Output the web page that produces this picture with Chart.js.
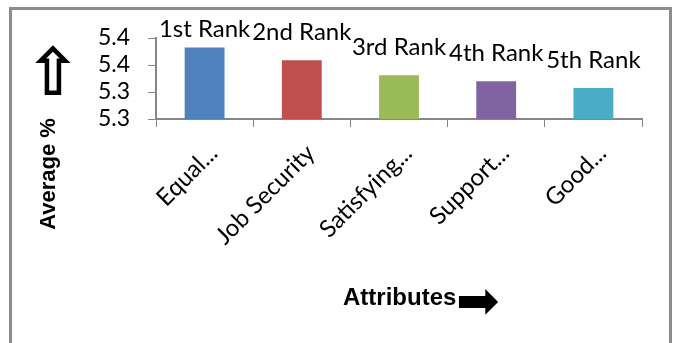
<!DOCTYPE html>
<html>
<head>
<meta charset="utf-8">
<script src="https://cdn.jsdelivr.net/npm/chart.js@4/dist/chart.umd.min.js"></script>
<style>
  html, body { margin: 0; padding: 0; background: #fff; }
  #wrap { width: 676px; height: 343px; position: relative; }
</style>
</head>
<body>
<div id="wrap"><canvas id="c" width="676" height="343"></canvas></div>
<script>
// Attributes ranked by average score
const attributes = ['Equal...', 'Job Security', 'Satisfying...', 'Support...', 'Good...'];
const averages = [5.406, 5.387, 5.365, 5.356, 5.346];
const rankLabels = ['1st Rank', '2nd Rank', '3rd Rank', '4th Rank', '5th Rank'];
const barColors = ['#4F81BD', '#C0504D', '#9BBB59', '#8064A2', '#4BACC6'];
const yTicks = [5.30, 5.34, 5.38, 5.42];

const axisGray = '#868686';

// Frame, axis titles and the rank label above each bar
const decorations = {
  id: 'decorations',
  beforeDraw(chart) {
    const ctx = chart.ctx;
    ctx.save();
    ctx.fillStyle = '#fff';
    ctx.fillRect(0, 0, chart.width, chart.height);
    ctx.strokeStyle = '#8c8c8c';
    ctx.lineWidth = 3;
    ctx.strokeRect(10.5, 8.5, 660, 400);
    ctx.restore();
  },
  afterDatasetsDraw(chart) {
    const ctx = chart.ctx;
    const meta = chart.getDatasetMeta(0);
    ctx.save();
    ctx.fillStyle = '#000';
    ctx.font = '24px Lato';
    ctx.textAlign = 'center';
    ctx.textBaseline = 'alphabetic';
    meta.data.forEach((bar, i) => {
      const base = Math.max(bar.y - 20, chart.chartArea.top - 1);
      ctx.fillText(rankLabels[i], bar.x, base);
    });
    ctx.restore();
  },
  afterDraw(chart) {
    const ctx = chart.ctx;
    // y-axis title
    ctx.save();
    ctx.fillStyle = '#000';
    ctx.translate(49, 174);
    ctx.rotate(-Math.PI / 2);
    ctx.font = 'bold 22px "Liberation Sans"';
    ctx.textAlign = 'center';
    ctx.textBaseline = 'middle';
    ctx.fillText('Average %', 0, 0);
    ctx.restore();

    // upward arrow above the y-axis title
    ctx.save();
    ctx.fillStyle = '#000';
    ctx.font = 'bold 66px "DejaVu Sans"';
    ctx.textAlign = 'center';
    ctx.textBaseline = 'middle';
    ctx.fillText('\u21E7', 53, 78);
    ctx.restore();

    // x-axis title with its arrow
    ctx.save();
    ctx.fillStyle = '#000';
    ctx.font = 'bold 24px "Liberation Sans"';
    ctx.textAlign = 'left';
    ctx.textBaseline = 'alphabetic';
    ctx.fillText('Attributes', 343, 305);
    ctx.font = '52px "DejaVu Sans"';
    ctx.textBaseline = 'middle';
    ctx.fillText('\u27A1', 456, 304);
    ctx.restore();
  }
};

new Chart(document.getElementById('c'), {
  type: 'bar',
  data: {
    labels: attributes,
    datasets: [{
      data: averages,
      backgroundColor: barColors,
      borderWidth: 0,
      barPercentage: 0.41,
      categoryPercentage: 1.0
    }]
  },
  options: {
    responsive: false,
    animation: false,
    devicePixelRatio: 1,
    layout: { padding: { top: 38, right: 34, bottom: 0, left: 0 } },
    plugins: {
      legend: { display: false },
      tooltip: { enabled: false }
    },
    scales: {
      x: {
        grid: {
          display: true,
          drawOnChartArea: false,
          drawTicks: true,
          tickLength: 8,
          color: axisGray,
          offset: true
        },
        border: { display: true, color: axisGray, width: 2 },
        ticks: {
          autoSkip: false,
          maxRotation: 45,
          minRotation: 45,
          padding: 12,
          labelOffset: 9,
          color: '#000',
          font: { family: 'Lato', size: 24 }
        },
        afterFit(scale) { scale.height = 343 - 119; }
      },
      y: {
        min: yTicks[0],
        max: yTicks[yTicks.length - 1],
        grid: {
          display: true,
          drawOnChartArea: false,
          drawTicks: true,
          tickLength: 8,
          color: axisGray
        },
        border: { display: true, color: axisGray, width: 2 },
        ticks: {
          autoSkip: false,
          padding: 18,
          color: '#000',
          font: { family: 'Lato', size: 23 },
          callback: (v) => Number(v).toFixed(1)
        },
        afterBuildTicks(scale) { scale.ticks = yTicks.map((v) => ({ value: v })); },
        afterFit(scale) { scale.width = 156; }
      }
    }
  },
  plugins: [decorations]
});
</script>
</body>
</html>
